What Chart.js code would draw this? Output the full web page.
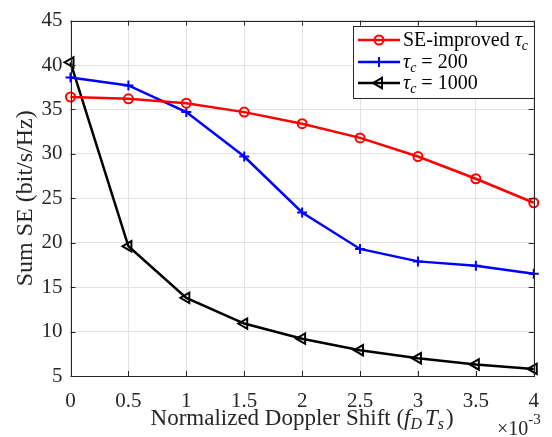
<!DOCTYPE html>
<html>
<head>
<meta charset="utf-8">
<script src="https://cdn.jsdelivr.net/npm/chart.js@4.4.1/dist/chart.umd.min.js"></script>
<style>
  html, body { margin: 0; padding: 0; background: #fff; }
  #wrap { width: 552px; height: 437px; position: relative; }
</style>
</head>
<body>
<div id="wrap"><canvas id="seChart" width="552" height="437"></canvas></div>
<script>
// normalized Doppler shift, in units of 1e-3
const dopplerShift = [0, 0.5, 1, 1.5, 2, 2.5, 3, 3.5, 4];
const xTicks = [0, 0.5, 1, 1.5, 2, 2.5, 3, 3.5, 4];
const yTicks = [5, 10, 15, 20, 25, 30, 35, 40, 45];

// sum SE (bit/s/Hz)
const seImproved = [36.4, 36.2, 35.7, 34.7, 33.4, 31.8, 29.7, 27.2, 24.5];
const seTau200 = [38.6, 37.7, 34.7, 29.7, 23.4, 19.3, 17.9, 17.4, 16.5];
const seTau1000 = [40.3, 19.6, 13.8, 10.9, 9.2, 7.9, 7.0, 6.3, 5.8];

// legend: plain prefix, then tau_c, then suffix
const seriesNames = [
  ['SE-improved ', true, ''],
  ['', true, ' = 200'],
  ['', true, ' = 1000']
];

const FONT = '"Liberation Serif", "DejaVu Serif", serif';
const AXIS_COLOR = '#262626';

function toPoints(ys) {
  return ys.map((y, i) => ({ x: dopplerShift[i], y: y }));
}

// draws "tau_c" style text, returns the width used
function drawTau(ctx, x, y, size) {
  ctx.font = 'italic ' + size + 'px ' + FONT;
  ctx.fillText('τ', x, y);
  let w = ctx.measureText('τ').width;
  ctx.font = 'italic ' + Math.round(size * 0.7) + 'px ' + FONT;
  ctx.fillText('c', x + w, y + size * 0.22);
  return w + ctx.measureText('c').width;
}

function drawMarker(ctx, kind, x, y) {
  ctx.beginPath();
  if (kind === 'circle') {
    ctx.arc(x, y, 4.5, 0, Math.PI * 2);
  } else if (kind === 'cross') {
    ctx.moveTo(x - 5, y); ctx.lineTo(x + 5, y);
    ctx.moveTo(x, y - 5); ctx.lineTo(x, y + 5);
  } else {
    ctx.moveTo(x - 6, y); ctx.lineTo(x + 3, y - 5.2); ctx.lineTo(x + 3, y + 5.2); ctx.closePath();
  }
  ctx.stroke();
}

const boxPlugin = {
  id: 'matlabBox',
  afterDraw(chart) {
    const ctx = chart.ctx;
    const a = chart.chartArea;
    const sx = chart.scales.x, sy = chart.scales.y;
    ctx.save();
    ctx.strokeStyle = AXIS_COLOR;
    ctx.lineWidth = 1;
    ctx.strokeRect(Math.round(a.left) + 0.5, Math.round(a.top) + 0.5,
      Math.round(a.right - a.left), Math.round(a.bottom - a.top));
    // inward ticks on all four sides
    ctx.beginPath();
    xTicks.forEach(v => {
      const px = Math.round(sx.getPixelForValue(v)) + 0.5;
      ctx.moveTo(px, a.bottom); ctx.lineTo(px, a.bottom - 5);
      ctx.moveTo(px, a.top); ctx.lineTo(px, a.top + 5);
    });
    yTicks.forEach(v => {
      const py = Math.round(sy.getPixelForValue(v)) + 0.5;
      ctx.moveTo(a.left, py); ctx.lineTo(a.left + 5, py);
      ctx.moveTo(a.right, py); ctx.lineTo(a.right - 5, py);
    });
    ctx.stroke();

    // axis titles
    ctx.fillStyle = AXIS_COLOR;
    ctx.textBaseline = 'alphabetic';
    const cx = (a.left + a.right) / 2;
    const ty = 425;
    const big = 23, small = 16;
    const p1 = 'Normalized Doppler Shift (';
    ctx.font = big + 'px ' + FONT;
    const w1 = ctx.measureText(p1).width;
    ctx.font = 'italic ' + big + 'px ' + FONT;
    const wf = ctx.measureText('f').width, wT = ctx.measureText('T').width;
    ctx.font = 'italic ' + small + 'px ' + FONT;
    const wD = ctx.measureText('D').width, ws = ctx.measureText('s').width;
    ctx.font = big + 'px ' + FONT;
    const wp = ctx.measureText(')').width;
    const total = w1 + wf + wD + 3 + wT + ws + 2 + wp;
    let x = cx - total / 2;
    ctx.textAlign = 'left';
    ctx.fillText(p1, x, ty); x += w1;
    ctx.font = 'italic ' + big + 'px ' + FONT;
    ctx.fillText('f', x, ty); x += wf;
    ctx.font = 'italic ' + small + 'px ' + FONT;
    ctx.fillText('D', x, ty + 4); x += wD + 3;
    ctx.font = 'italic ' + big + 'px ' + FONT;
    ctx.fillText('T', x, ty); x += wT;
    ctx.font = 'italic ' + small + 'px ' + FONT;
    ctx.fillText('s', x, ty + 4); x += ws + 2;
    ctx.font = big + 'px ' + FONT;
    ctx.fillText(')', x, ty);

    // exponent note
    ctx.font = '20px ' + FONT;
    ctx.fillText('×10', 497, 435);
    const wx = ctx.measureText('×10').width;
    ctx.font = '15px ' + FONT;
    ctx.fillText('-3', 497 + wx, 424);

    ctx.save();
    ctx.translate(24, (a.top + a.bottom) / 2);
    ctx.rotate(-Math.PI / 2);
    ctx.textAlign = 'center';
    ctx.font = '24px ' + FONT;
    ctx.fillText('Sum SE (bit/s/Hz)', 0, 8);
    ctx.restore();

    // legend
    const lx = 353.5, ly = 26.5, lw = 181, lh = 72;
    ctx.fillStyle = '#fff';
    ctx.fillRect(lx, ly, lw, lh);
    ctx.strokeStyle = AXIS_COLOR;
    ctx.lineWidth = 1;
    ctx.strokeRect(lx, ly, lw, lh);
    const rows = [40, 62, 83];
    chart.data.datasets.forEach((ds, i) => {
      const ry = rows[i];
      ctx.strokeStyle = ds.borderColor;
      ctx.lineWidth = 2.5;
      ctx.beginPath(); ctx.moveTo(358, ry); ctx.lineTo(400, ry); ctx.stroke();
      ctx.lineWidth = 2;
      drawMarker(ctx, ds.markerKind, 379, ry);
      ctx.fillStyle = '#000';
      const nm = seriesNames[i];
      let tx = 403;
      const by = ry + 6;
      ctx.font = '20px ' + FONT;
      ctx.fillText(nm[0], tx, by); tx += ctx.measureText(nm[0]).width;
      if (nm[1]) tx += drawTau(ctx, tx, by, 20);
      ctx.font = '20px ' + FONT;
      ctx.fillText(nm[2], tx, by);
    });
    ctx.restore();
  }
};

const ctx = document.getElementById('seChart').getContext('2d');
new Chart(ctx, {
  type: 'line',
  data: {
    datasets: [
      {
        label: 'SE-improved tau_c',
        data: toPoints(seImproved),
        borderColor: '#ff0000',
        backgroundColor: 'rgba(0,0,0,0)',
        pointStyle: 'circle',
        pointRadius: 4.5,
        pointBorderWidth: 2,
        markerKind: 'circle'
      },
      {
        label: 'tau_c = 200',
        data: toPoints(seTau200),
        borderColor: '#0000ff',
        backgroundColor: 'rgba(0,0,0,0)',
        pointStyle: 'cross',
        pointRadius: 5,
        pointBorderWidth: 2,
        markerKind: 'cross'
      },
      {
        label: 'tau_c = 1000',
        data: toPoints(seTau1000),
        borderColor: '#000000',
        backgroundColor: 'rgba(0,0,0,0)',
        pointStyle: 'triangle',
        pointRotation: 270,
        pointRadius: 6,
        pointBorderWidth: 2,
        markerKind: 'triangle'
      }
    ]
  },
  options: {
    responsive: false,
    animation: false,
    clip: false,
    layout: { padding: { top: 12, right: 5, left: 0, bottom: 0 } },
    elements: { line: { borderWidth: 2.5, tension: 0 } },
    plugins: {
      legend: { display: false },
      tooltip: { enabled: false }
    },
    scales: {
      x: {
        type: 'linear',
        min: 0, max: 4,
        afterBuildTicks: s => { s.ticks = xTicks.map(v => ({ value: v })); },
        afterFit: s => { s.height = 61; },
        grid: { color: '#e3e3e3', drawTicks: false },
        border: { display: false },
        ticks: {
          color: AXIS_COLOR, padding: 13,
          font: { family: FONT, size: 21 },
          maxRotation: 0,
          callback: v => String(v)
        }
      },
      y: {
        min: 5, max: 45,
        afterBuildTicks: s => { s.ticks = yTicks.map(v => ({ value: v })); },
        afterFit: s => { s.width = 70.5; },
        grid: { color: '#e3e3e3', drawTicks: false },
        border: { display: false },
        ticks: {
          color: AXIS_COLOR, padding: 8,
          font: { family: FONT, size: 21 }
        }
      }
    }
  },
  plugins: [boxPlugin]
});
</script>
</body>
</html>
